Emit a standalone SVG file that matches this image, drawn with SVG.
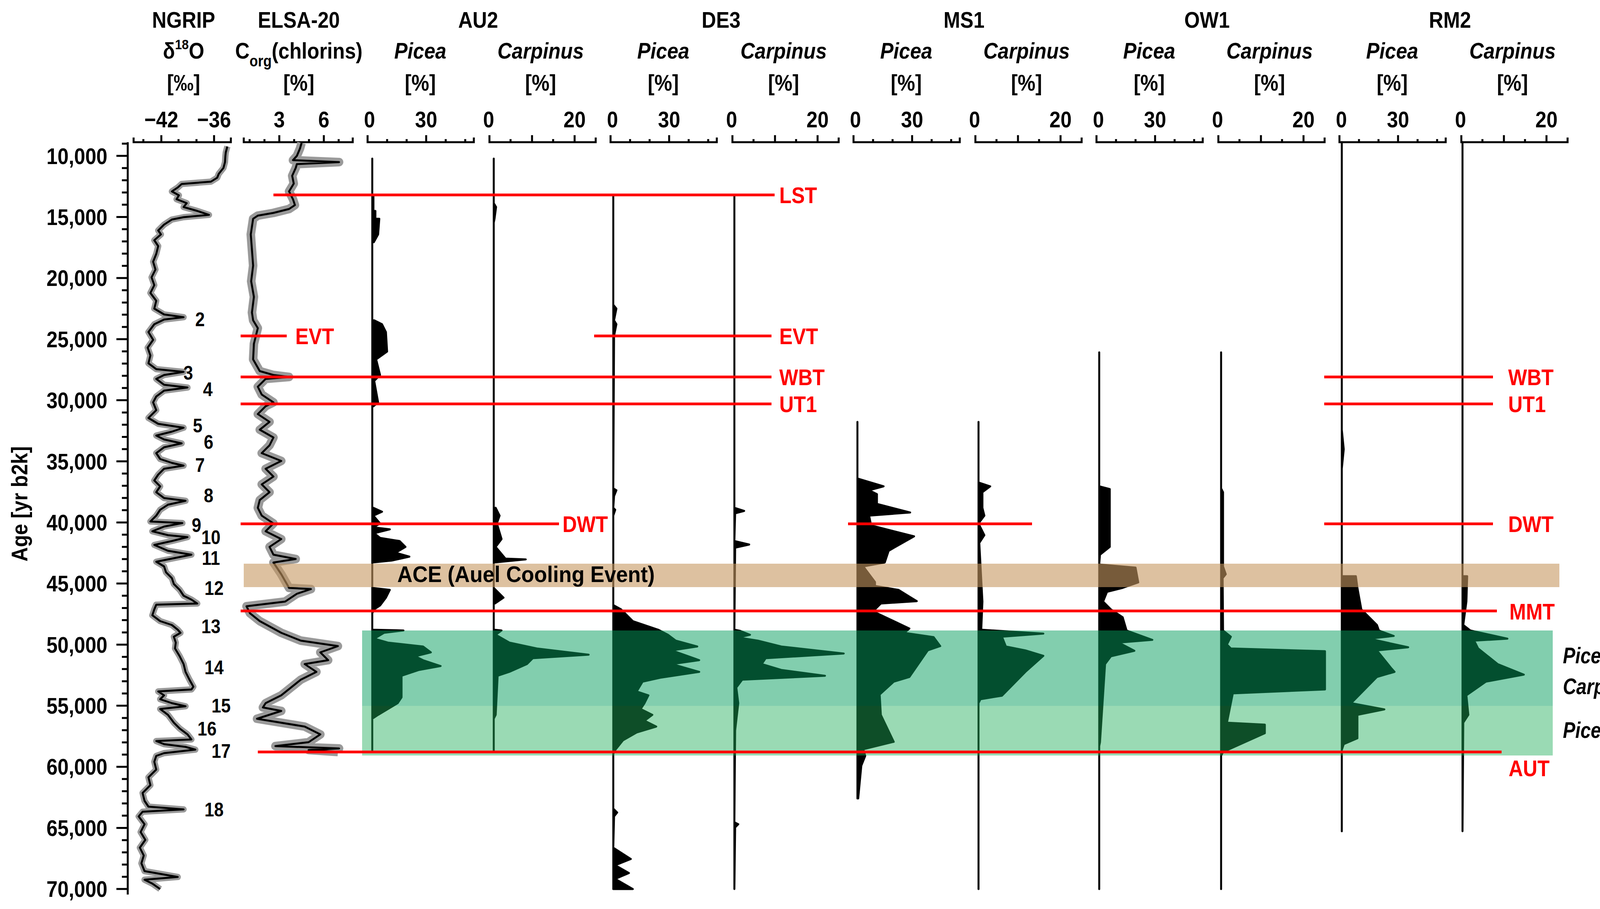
<svg xmlns="http://www.w3.org/2000/svg" width="4394" height="2327" viewBox="0 0 4394 2327">
<style>
.t{font-family:"Liberation Sans",Arial,sans-serif;font-weight:bold;font-size:58px;text-anchor:middle;fill:#000}
.i{font-style:italic}
.s{text-anchor:start}
.red{fill:#ff0000;text-anchor:start}
.lab{text-anchor:end}
.n{font-size:50px}
.ax{fill:none;stroke:#000;stroke-width:5}
.prof{fill:#000;stroke:#000;stroke-width:5;stroke-linejoin:round}
.ev{stroke:#ff0000;stroke-width:7;fill:none}
.grey{fill:none;stroke:#9a9a9a;stroke-linejoin:round}
.blk{fill:none;stroke:#000;stroke-width:5;stroke-linejoin:round}
</style>
<rect width="4394" height="2327" fill="#fff"/>

<g id="headers">
<text class="t" transform="translate(470,71) scale(0.88,1)">NGRIP</text>
<text class="t" transform="translate(470,150) scale(0.88,1)">δ<tspan font-size="36" dy="-24">18</tspan><tspan dy="24">O</tspan></text>
<text class="t" transform="translate(470,232) scale(0.88,1)">[‰]</text>
<text class="t" transform="translate(765,71) scale(0.88,1)">ELSA-20</text>
<text class="t" transform="translate(765,150) scale(0.88,1)">C<tspan font-size="40" dy="20">org</tspan><tspan dy="-20">(chlorins)</tspan></text>
<text class="t" transform="translate(765,232) scale(0.88,1)">[%]</text>
<text class="t" transform="translate(1224,71) scale(0.88,1)">AU2</text>
<text class="t" transform="translate(1846,71) scale(0.88,1)">DE3</text>
<text class="t" transform="translate(2468,71) scale(0.88,1)">MS1</text>
<text class="t" transform="translate(3090,71) scale(0.88,1)">OW1</text>
<text class="t" transform="translate(3712,71) scale(0.88,1)">RM2</text>
<text class="t i" transform="translate(1076,150) scale(0.88,1)">Picea</text><text class="t" transform="translate(1076,232) scale(0.88,1)">[%]</text>
<text class="t i" transform="translate(1384,150) scale(0.88,1)">Carpinus</text><text class="t" transform="translate(1384,232) scale(0.88,1)">[%]</text>
<text class="t i" transform="translate(1698,150) scale(0.88,1)">Picea</text><text class="t" transform="translate(1698,232) scale(0.88,1)">[%]</text>
<text class="t i" transform="translate(2006,150) scale(0.88,1)">Carpinus</text><text class="t" transform="translate(2006,232) scale(0.88,1)">[%]</text>
<text class="t i" transform="translate(2320,150) scale(0.88,1)">Picea</text><text class="t" transform="translate(2320,232) scale(0.88,1)">[%]</text>
<text class="t i" transform="translate(2628,150) scale(0.88,1)">Carpinus</text><text class="t" transform="translate(2628,232) scale(0.88,1)">[%]</text>
<text class="t i" transform="translate(2942,150) scale(0.88,1)">Picea</text><text class="t" transform="translate(2942,232) scale(0.88,1)">[%]</text>
<text class="t i" transform="translate(3250,150) scale(0.88,1)">Carpinus</text><text class="t" transform="translate(3250,232) scale(0.88,1)">[%]</text>
<text class="t i" transform="translate(3564,150) scale(0.88,1)">Picea</text><text class="t" transform="translate(3564,232) scale(0.88,1)">[%]</text>
<text class="t i" transform="translate(3872,150) scale(0.88,1)">Carpinus</text><text class="t" transform="translate(3872,232) scale(0.88,1)">[%]</text>
</g>

<g id="top-axes">
<text class="t" transform="translate(413,326) scale(0.88,1)">−42</text><text class="t" transform="translate(548,326) scale(0.88,1)">−36</text>
<path class="ax" d="M342,352V364H591V352M367,356V364M413,346V364M457,356V364M503,356V364M548,346V364"/>
<text class="t" transform="translate(715,326) scale(0.88,1)">3</text><text class="t" transform="translate(829,326) scale(0.88,1)">6</text>
<path class="ax" d="M624,352V364H903V352M639,356V364M677,356V364M715,346V364M753,356V364M791,356V364M829,346V364M867,356V364"/>
<text class="t" transform="translate(946,326) scale(0.88,1)">0</text><text class="t" transform="translate(1091,326) scale(0.88,1)">30</text>
<path class="ax" d="M941,346V364H1213V352M991,356V364M1041,356V364M1091,346V364M1141,356V364M1191,356V364"/>
<text class="t" transform="translate(1251,326) scale(0.88,1)">0</text><text class="t" transform="translate(1471,326) scale(0.88,1)">20</text>
<path class="ax" d="M1253,346V364H1525V352M1307,356V364M1362,346V364M1416,356V364M1471,346V364"/>
<text class="t" transform="translate(1568,326) scale(0.88,1)">0</text><text class="t" transform="translate(1713,326) scale(0.88,1)">30</text>
<path class="ax" d="M1563,346V364H1835V352M1613,356V364M1663,356V364M1713,346V364M1763,356V364M1813,356V364"/>
<text class="t" transform="translate(1873,326) scale(0.88,1)">0</text><text class="t" transform="translate(2093,326) scale(0.88,1)">20</text>
<path class="ax" d="M1875,346V364H2147V352M1929,356V364M1984,346V364M2038,356V364M2093,346V364"/>
<text class="t" transform="translate(2190,326) scale(0.88,1)">0</text><text class="t" transform="translate(2335,326) scale(0.88,1)">30</text>
<path class="ax" d="M2185,346V364H2457V352M2235,356V364M2285,356V364M2335,346V364M2385,356V364M2435,356V364"/>
<text class="t" transform="translate(2495,326) scale(0.88,1)">0</text><text class="t" transform="translate(2715,326) scale(0.88,1)">20</text>
<path class="ax" d="M2497,346V364H2769V352M2551,356V364M2606,346V364M2660,356V364M2715,346V364"/>
<text class="t" transform="translate(2812,326) scale(0.88,1)">0</text><text class="t" transform="translate(2957,326) scale(0.88,1)">30</text>
<path class="ax" d="M2807,346V364H3079V352M2857,356V364M2907,356V364M2957,346V364M3007,356V364M3057,356V364"/>
<text class="t" transform="translate(3117,326) scale(0.88,1)">0</text><text class="t" transform="translate(3337,326) scale(0.88,1)">20</text>
<path class="ax" d="M3119,346V364H3391V352M3173,356V364M3228,346V364M3282,356V364M3337,346V364"/>
<text class="t" transform="translate(3434,326) scale(0.88,1)">0</text><text class="t" transform="translate(3579,326) scale(0.88,1)">30</text>
<path class="ax" d="M3429,346V364H3701V352M3479,356V364M3529,356V364M3579,346V364M3629,356V364M3679,356V364"/>
<text class="t" transform="translate(3739,326) scale(0.88,1)">0</text><text class="t" transform="translate(3959,326) scale(0.88,1)">20</text>
<path class="ax" d="M3741,346V364H4013V352M3795,356V364M3850,346V364M3904,356V364M3959,346V364"/>
</g>

<g id="age-axis">
<text class="t" transform="translate(70,1290) rotate(-90) scale(0.88,1)">Age [yr b2k]</text>
<path class="ax" d="M327,364V2290"/>
<path class="ax" d="M312,367.7h15M312,430.3h15M312,461.6h15M312,492.8h15M312,524.1h15M312,586.7h15M312,618h15M312,649.2h15M312,680.5h15M312,743.1h15M312,774.4h15M312,805.6h15M312,836.9h15M312,899.5h15M312,930.8h15M312,962h15M312,993.3h15M312,1055.9h15M312,1087.2h15M312,1118.4h15M312,1149.7h15M312,1212.3h15M312,1243.6h15M312,1274.8h15M312,1306.1h15M312,1368.7h15M312,1400h15M312,1431.2h15M312,1462.5h15M312,1525.1h15M312,1556.4h15M312,1587.6h15M312,1618.9h15M312,1681.5h15M312,1712.8h15M312,1744h15M312,1775.3h15M312,1837.9h15M312,1869.2h15M312,1900.4h15M312,1931.7h15M312,1994.3h15M312,2025.6h15M312,2056.8h15M312,2088.1h15M312,2150.7h15M312,2182h15M312,2213.2h15M312,2244.5h15"/>
<path class="ax" d="M298,399h29M298,555.4h29M298,711.8h29M298,868.2h29M298,1024.6h29M298,1181h29M298,1337.4h29M298,1493.8h29M298,1650.2h29M298,1806.6h29M298,1963h29M298,2119.4h29M298,2275.8h29"/>
<text class="t lab" transform="translate(275,420) scale(0.88,1)">10,000</text>
<text class="t lab" transform="translate(275,576) scale(0.88,1)">15,000</text>
<text class="t lab" transform="translate(275,732) scale(0.88,1)">20,000</text>
<text class="t lab" transform="translate(275,889) scale(0.88,1)">25,000</text>
<text class="t lab" transform="translate(275,1045) scale(0.88,1)">30,000</text>
<text class="t lab" transform="translate(275,1202) scale(0.88,1)">35,000</text>
<text class="t lab" transform="translate(275,1358) scale(0.88,1)">40,000</text>
<text class="t lab" transform="translate(275,1514) scale(0.88,1)">45,000</text>
<text class="t lab" transform="translate(275,1671) scale(0.88,1)">50,000</text>
<text class="t lab" transform="translate(275,1827) scale(0.88,1)">55,000</text>
<text class="t lab" transform="translate(275,1983) scale(0.88,1)">60,000</text>
<text class="t lab" transform="translate(275,2140) scale(0.88,1)">65,000</text>
<text class="t lab" transform="translate(275,2296) scale(0.88,1)">70,000</text>
</g>

<g id="ngrip">
<polyline class="grey" stroke-width="16" points="582,375 578,390 577,399 576,415 572,430 560,445 556,455 540,465 465,471 455,480 440,490 458,500 452,510 478,520 470,530 505,540 535,550 470,556 440,562 420,575 405,590 412,600 395,615 405,630 400,650 392,670 398,690 388,710 395,730 385,750 400,770 395,790 420,805 470,812 420,818 395,830 380,850 392,870 378,890 385,910 380,930 400,945 470,952 420,960 400,970 420,985 480,992 420,1000 400,1015 392,1030 400,1050 380,1070 405,1085 470,1095 440,1105 400,1115 420,1125 465,1135 420,1145 400,1160 410,1175 440,1185 470,1192 420,1200 405,1215 395,1230 410,1245 400,1260 420,1275 475,1282 430,1292 410,1305 400,1320 385,1335 467,1339 420,1348 390,1360 430,1370 480,1375 440,1385 395,1395 430,1410 490,1420 440,1430 400,1438 420,1450 425,1465 440,1480 445,1495 460,1510 470,1525 490,1535 505,1545 400,1548 395,1560 390,1575 410,1590 440,1600 455,1612 462,1620 445,1630 450,1645 448,1660 460,1680 470,1700 475,1720 485,1740 495,1758 490,1765 405,1770 420,1780 410,1790 440,1800 475,1808 410,1815 430,1830 445,1850 460,1865 480,1880 490,1893 400,1897 420,1905 475,1912 500,1919 420,1928 400,1935 395,1950 400,1970 380,1990 385,2010 365,2030 370,2050 380,2065 470,2072 365,2078 355,2090 370,2110 360,2130 372,2150 358,2170 368,2190 362,2210 370,2230 455,2245 370,2252 390,2262 410,2276"/>
<polyline class="blk" points="582,375 578,390 577,399 576,415 572,430 560,445 556,455 540,465 465,471 455,480 440,490 458,500 452,510 478,520 470,530 505,540 535,550 470,556 440,562 420,575 405,590 412,600 395,615 405,630 400,650 392,670 398,690 388,710 395,730 385,750 400,770 395,790 420,805 470,812 420,818 395,830 380,850 392,870 378,890 385,910 380,930 400,945 470,952 420,960 400,970 420,985 480,992 420,1000 400,1015 392,1030 400,1050 380,1070 405,1085 470,1095 440,1105 400,1115 420,1125 465,1135 420,1145 400,1160 410,1175 440,1185 470,1192 420,1200 405,1215 395,1230 410,1245 400,1260 420,1275 475,1282 430,1292 410,1305 400,1320 385,1335 467,1339 420,1348 390,1360 430,1370 480,1375 440,1385 395,1395 430,1410 490,1420 440,1430 400,1438 420,1450 425,1465 440,1480 445,1495 460,1510 470,1525 490,1535 505,1545 400,1548 395,1560 390,1575 410,1590 440,1600 455,1612 462,1620 445,1630 450,1645 448,1660 460,1680 470,1700 475,1720 485,1740 495,1758 490,1765 405,1770 420,1780 410,1790 440,1800 475,1808 410,1815 430,1830 445,1850 460,1865 480,1880 490,1893 400,1897 420,1905 475,1912 500,1919 420,1928 400,1935 395,1950 400,1970 380,1990 385,2010 365,2030 370,2050 380,2065 470,2072 365,2078 355,2090 370,2110 360,2130 372,2150 358,2170 368,2190 362,2210 370,2230 455,2245 370,2252 390,2262 410,2276"/>
<text class="t n" transform="translate(512,835) scale(0.88,1)">2</text>
<text class="t n" transform="translate(482,972) scale(0.88,1)">3</text>
<text class="t n" transform="translate(532,1014) scale(0.88,1)">4</text>
<text class="t n" transform="translate(506,1107) scale(0.88,1)">5</text>
<text class="t n" transform="translate(534,1149) scale(0.88,1)">6</text>
<text class="t n" transform="translate(512,1208) scale(0.88,1)">7</text>
<text class="t n" transform="translate(534,1286) scale(0.88,1)">8</text>
<text class="t n" transform="translate(503,1362) scale(0.88,1)">9</text>
<text class="t n" transform="translate(540,1393) scale(0.88,1)">10</text>
<text class="t n" transform="translate(540,1446) scale(0.88,1)">11</text>
<text class="t n" transform="translate(548,1523) scale(0.88,1)">12</text>
<text class="t n" transform="translate(540,1621) scale(0.88,1)">13</text>
<text class="t n" transform="translate(548,1726) scale(0.88,1)">14</text>
<text class="t n" transform="translate(566,1824) scale(0.88,1)">15</text>
<text class="t n" transform="translate(530,1883) scale(0.88,1)">16</text>
<text class="t n" transform="translate(566,1940) scale(0.88,1)">17</text>
<text class="t n" transform="translate(548,2090) scale(0.88,1)">18</text>
</g>

<g id="elsa">
<polyline class="grey" stroke-width="22" points="772,366 768,380 760,399 750,410 868,415 760,420 757,430 748,450 752,470 740,490 745,500 750,510 755,525 740,535 700,545 660,552 648,560 642,600 645,640 648,680 643,720 650,760 645,800 648,820 660,840 655,860 650,880 648,920 665,950 700,960 740,965 680,970 660,990 670,1010 700,1030 680,1040 660,1060 690,1080 665,1100 700,1120 690,1140 670,1160 720,1180 680,1200 700,1220 670,1240 690,1260 665,1280 660,1300 670,1320 700,1340 680,1360 720,1380 690,1400 700,1420 757,1431 700,1440 720,1470 740,1505 796,1508 760,1520 730,1540 631,1552 640,1570 665,1590 720,1620 770,1640 865,1654 820,1670 840,1690 780,1700 810,1720 770,1740 745,1760 720,1780 680,1800 673,1811 720,1820 658,1840 780,1860 820,1880 790,1900 705,1910 868,1916 790,1920 865,1925"/>
<polyline class="blk" points="772,366 768,380 760,399 750,410 868,415 760,420 757,430 748,450 752,470 740,490 745,500 750,510 755,525 740,535 700,545 660,552 648,560 642,600 645,640 648,680 643,720 650,760 645,800 648,820 660,840 655,860 650,880 648,920 665,950 700,960 740,965 680,970 660,990 670,1010 700,1030 680,1040 660,1060 690,1080 665,1100 700,1120 690,1140 670,1160 720,1180 680,1200 700,1220 670,1240 690,1260 665,1280 660,1300 670,1320 700,1340 680,1360 720,1380 690,1400 700,1420 757,1431 700,1440 720,1470 740,1505 796,1508 760,1520 730,1540 631,1552 640,1570 665,1590 720,1620 770,1640 865,1654 820,1670 840,1690 780,1700 810,1720 770,1740 745,1760 720,1780 680,1800 673,1811 720,1820 658,1840 780,1860 820,1880 790,1900 705,1910 868,1916 790,1920 865,1925"/>
</g>

<g id="profiles">
<path id="au2-picea" class="prof" d="M953,406 L953,500 956,500 956,540 961,540 961,560 971,560 968,600 957,620 953,620 L953,820 958,820 978,830 988,850 991,900 963,920 973,960 958,975 968,1030 956,1040 953,1040 L953,1300 956,1300 978,1310 956,1320 973,1340 956,1350 998,1355 958,1365 973,1377 1023,1385 1038,1400 1013,1415 1048,1425 1003,1435 953,1440 L953,1505 998,1510 988,1530 973,1550 958,1560 953,1570 L953,1612 1033,1614 983,1620 958,1635 993,1645 1083,1655 1103,1670 1063,1680 1083,1690 1128,1705 1073,1715 1028,1730 1028,1785 1018,1800 968,1830 953,1840 L953,1922 Z"/>
<path id="au2-carpinus" class="prof" d="M1264,406 L1264,520 1270,530 1266,560 1264,570 L1264,1300 1269,1300 1279,1320 1272,1340 1284,1380 1269,1400 1294,1430 1346,1432 1264,1440 L1264,1505 1274,1515 1289,1530 1267,1545 1264,1545 L1264,1612 1284,1614 1269,1625 1304,1645 1374,1660 1507,1676 1364,1685 1349,1700 1304,1720 1274,1730 1269,1830 1264,1840 L1264,1922 Z"/>
<path id="de3-picea" class="prof" d="M1570,499 L1570,780 1578,790 1572,820 1578,830 1572,860 L1570,1250 1578,1255 1572,1270 L1570,1300 1575,1305 1570,1320 L1570,1549 1590,1560 1620,1590 1685,1612 1710,1625 1730,1640 1785,1655 1720,1665 1790,1690 1720,1700 1790,1720 1690,1735 1645,1745 1630,1770 1660,1780 1650,1800 1640,1815 1670,1830 1650,1845 1680,1860 1630,1875 1595,1895 1575,1920 1570,1930 L1570,2070 1580,2080 1572,2090 L1570,2170 1615,2199 1575,2215 1610,2235 1575,2250 1620,2276 1570,2276 Z"/>
<path id="de3-carpinus" class="prof" d="M1880,499 L1880,1300 1905,1308 1882,1314 L1880,1385 1918,1394 1882,1402 L1880,1612 1895,1615 1920,1625 1890,1632 1940,1640 2000,1655 2160,1673 1960,1685 1950,1700 2000,1715 2112,1730 1900,1740 1885,1760 1890,1800 1882,1870 L1880,2105 1890,2110 1882,2118 L1880,2276 Z"/>
<path id="ms1-picea" class="prof" d="M2195,1080 L2195,1225 2262,1245 2225,1255 2245,1265 2245,1290 2330,1312 2225,1320 2230,1345 2340,1373 2275,1410 2265,1440 2210,1450 2225,1470 2240,1490 2240,1500 2300,1510 2347,1539 2255,1545 2235,1565 2328,1609 2315,1620 2390,1631 2407,1654 2375,1665 2328,1733 2288,1745 2252,1778 2255,1830 2288,1899 2210,1918 2215,1935 2205,1960 2197,2044 2195,2044 Z"/>
<path id="ms1-carpinus" class="prof" d="M2505,1080 L2505,1235 2535,1245 2515,1260 2515,1300 2520,1320 2505,1340 2520,1370 2507,1390 2515,1540 2512,1612 2671,1622 2565,1630 2575,1655 2625,1665 2671,1679 2625,1720 2565,1781 2510,1790 2505,1800 L2505,2276 Z"/>
<path id="ow1-picea" class="prof" d="M2814,902 L2814,1245 2841,1252 2841,1400 2816,1420 2814,1445 2907,1453 2914,1491 2874,1505 2834,1515 2824,1540 2844,1560 2874,1580 2884,1614 2950,1638 2864,1645 2904,1666 2844,1680 2829,1700 2816,1900 2814,1910 L2814,2276 Z"/>
<path id="ow1-carpinus" class="prof" d="M3126,902 L3126,1250 3131,1260 3131,1450 3138,1470 3130,1480 3131,1614 3151,1630 3141,1650 3151,1660 3392,1667 3392,1765 3156,1775 3141,1850 3238,1855 3238,1877 3131,1925 3126,1935 L3126,2276 Z"/>
<path id="rm2-picea" class="prof" d="M3435,364 L3435,1100 3440,1150 3435,1200 L3435,1475 3471,1475 3475,1505 3485,1560 3525,1600 3530,1614 3568,1628 3505,1635 3605,1657 3525,1665 3562,1711 3570,1720 3525,1733 3459,1800 3544,1816 3475,1830 3475,1890 3440,1905 3435,1920 L3435,2128 Z"/>
<path id="rm2-carpinus" class="prof" d="M3744,364 L3744,1475 3756,1475 3754,1540 3746,1600 3764,1614 3859,1635 3774,1640 3784,1660 3834,1700 3901,1727 3804,1745 3754,1780 3759,1830 3746,1850 L3744,2128 Z"/>
</g>

<g id="zones">
<rect id="ace" x="624" y="1443" width="3368" height="60" fill="rgb(198,152,97)" fill-opacity="0.6"/>
<text class="t s" transform="translate(1017,1490) scale(0.93,1)">ACE (Auel Cooling Event)</text>
<rect id="picea-carpinus-zone" x="927" y="1614" width="3048" height="193" fill="rgb(6,158,94)" fill-opacity="0.5"/>
<rect id="picea-zone" x="927" y="1807" width="3048" height="127" fill="rgb(31,173,89)" fill-opacity="0.45"/>
<text class="t s" transform="translate(4001,1698) scale(0.82,1)"><tspan class="i">Picea</tspan>-</text>
<text class="t s" transform="translate(4001,1777) scale(0.82,1)"><tspan class="i">Carpinus</tspan>-Zone</text>
<text class="t s" transform="translate(4001,1889) scale(0.82,1)"><tspan class="i">Picea</tspan>-Zone</text>
</g>

<g id="connectors">
<path class="ev" d="M700,499H1983"/>
<path class="ev" d="M616,860H734M1521,860H1975"/>
<path class="ev" d="M616,965H1975M3390,965H3822"/>
<path class="ev" d="M616,1034H1975M3390,1034H3822"/>
<path class="ev" d="M616,1341H1431M2171,1341H2642M3390,1341H3822"/>
<path class="ev" d="M616,1564H3832"/>
<path class="ev" d="M660,1925H3844"/>
</g>
<g id="event-labels">
<text class="t red" transform="translate(1995,520) scale(0.88,1)">LST</text>
<text class="t red" transform="translate(756,881) scale(0.88,1)">EVT</text>
<text class="t red" transform="translate(1995,881) scale(0.88,1)">EVT</text>
<text class="t red" transform="translate(1995,986) scale(0.88,1)">WBT</text>
<text class="t red" transform="translate(3861,986) scale(0.88,1)">WBT</text>
<text class="t red" transform="translate(1995,1055) scale(0.88,1)">UT1</text>
<text class="t red" transform="translate(3861,1055) scale(0.88,1)">UT1</text>
<text class="t red" transform="translate(1440,1362) scale(0.88,1)">DWT</text>
<text class="t red" transform="translate(3861,1362) scale(0.88,1)">DWT</text>
<text class="t red" transform="translate(3864,1586) scale(0.88,1)">MMT</text>
<text class="t red" transform="translate(3862,1987) scale(0.88,1)">AUT</text>
</g>
</svg>
